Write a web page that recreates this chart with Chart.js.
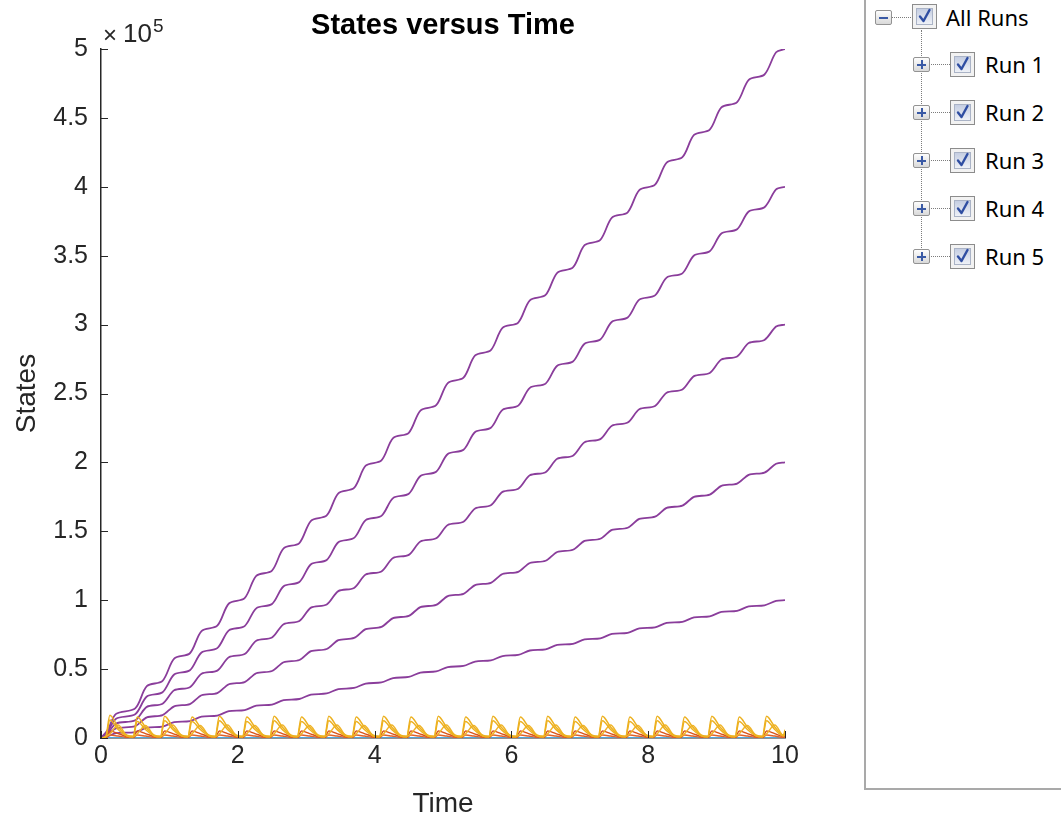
<!DOCTYPE html>
<html>
<head>
<meta charset="utf-8">
<title>States versus Time</title>
<script src="https://cdn.jsdelivr.net/npm/chart.js@4.4.1/dist/chart.umd.min.js"></script>
<style>
body { margin: 0; background: #fff; }
#wrap { position: relative; width: 1061px; height: 818px; overflow: hidden; }
#c { position: absolute; left: 0; top: 0; }
#panel { position: absolute; left: 864px; top: -2px; width: 220px; height: 790px; border-left: 2px solid #a9a9a9; border-bottom: 2px solid #a9a9a9; }
.exp { position: absolute; width: 15px; height: 13px; border: 1px solid #939393; border-radius: 2px; background: linear-gradient(#fdfdfd, #d9d9d9); }
.exp::before { content: ''; position: absolute; left: 3px; top: 5.5px; width: 9px; height: 2px; background: #3a5aa5; }
.exp.plus::after { content: ''; position: absolute; left: 6.5px; top: 2px; width: 2px; height: 9px; background: #3a5aa5; }
.hdot { position: absolute; height: 0; border-top: 1px dotted #7c7c7c; }
.vdot { position: absolute; width: 0; border-left: 1px dotted #7c7c7c; }
.chk { position: absolute; width: 25px; height: 25px; box-sizing: border-box; border: 1px solid #8c8c8c; background: #f2f2f2; }
.chk .in { position: absolute; left: 3px; top: 3px; right: 3px; bottom: 3px; border: 1px solid #aab3c6; background: linear-gradient(#c5cee2, #eef1f7); }
.chk svg { position: absolute; left: 3px; top: 2px; }
.lbl { position: absolute; font-family: "Noto Sans", sans-serif; font-size: 22px; line-height: 22px; color: #000; white-space: nowrap; }
</style>
</head>
<body>
<div id="wrap">
  <canvas id="c" width="860" height="818"></canvas>
  <div id="panel"></div>
  <div id="tree"></div>
</div>
<script>
// time grid for the purple state (rise start / rise end of every step)
const tSteps = [0, 0.1, 0.22,
  0.5, 0.67, 0.9, 1.07, 1.3, 1.47, 1.7, 1.87, 2.1, 2.27, 2.5, 2.67, 2.9, 3.07,
  3.3, 3.47, 3.7, 3.87, 4.1, 4.27, 4.5, 4.67, 4.9, 5.07, 5.3, 5.47, 5.7, 5.87,
  6.1, 6.27, 6.5, 6.67, 6.9, 7.07, 7.3, 7.47, 7.7, 7.87, 8.1, 8.27, 8.5, 8.67,
  8.9, 9.07, 9.3, 9.47, 9.7, 9.87, 10];

// purple state per run (x 1e5)
const run5 = [0, 0.06, 0.175,
  0.215, 0.376, 0.415, 0.576, 0.615, 0.776, 0.815, 0.976, 1.015, 1.176, 1.215, 1.376, 1.415, 1.576,
  1.615, 1.776, 1.815, 1.976, 2.015, 2.176, 2.215, 2.376, 2.415, 2.576, 2.615, 2.776, 2.815, 2.976,
  3.015, 3.176, 3.215, 3.376, 3.415, 3.576, 3.615, 3.776, 3.815, 3.976, 4.015, 4.176, 4.215, 4.376,
  4.415, 4.576, 4.615, 4.776, 4.815, 4.976, 5.0];
const run4 = [0, 0.048, 0.14,
  0.172, 0.301, 0.332, 0.461, 0.492, 0.621, 0.652, 0.781, 0.812, 0.941, 0.972, 1.101, 1.132, 1.261,
  1.292, 1.421, 1.452, 1.581, 1.612, 1.741, 1.772, 1.901, 1.932, 2.061, 2.092, 2.221, 2.252, 2.381,
  2.412, 2.541, 2.572, 2.701, 2.732, 2.861, 2.892, 3.021, 3.052, 3.181, 3.212, 3.341, 3.372, 3.501,
  3.532, 3.661, 3.692, 3.821, 3.852, 3.981, 4.0];
const run3 = [0, 0.036, 0.105,
  0.129, 0.226, 0.249, 0.346, 0.369, 0.466, 0.489, 0.586, 0.609, 0.706, 0.729, 0.826, 0.849, 0.946,
  0.969, 1.066, 1.089, 1.186, 1.209, 1.306, 1.329, 1.426, 1.449, 1.546, 1.569, 1.666, 1.689, 1.786,
  1.809, 1.906, 1.929, 2.026, 2.049, 2.146, 2.169, 2.266, 2.289, 2.386, 2.409, 2.506, 2.529, 2.626,
  2.649, 2.746, 2.769, 2.866, 2.889, 2.986, 3.0];
const run2 = [0, 0.024, 0.07,
  0.086, 0.150, 0.166, 0.230, 0.246, 0.310, 0.326, 0.390, 0.406, 0.470, 0.486, 0.550, 0.566, 0.630,
  0.646, 0.710, 0.726, 0.790, 0.806, 0.870, 0.886, 0.950, 0.966, 1.030, 1.046, 1.110, 1.126, 1.190,
  1.206, 1.270, 1.286, 1.350, 1.366, 1.430, 1.446, 1.510, 1.526, 1.590, 1.606, 1.670, 1.686, 1.750,
  1.766, 1.830, 1.846, 1.910, 1.926, 1.990, 2.0];
const run1 = [0, 0.012, 0.035,
  0.043, 0.075, 0.083, 0.115, 0.123, 0.155, 0.163, 0.195, 0.203, 0.235, 0.243, 0.275, 0.283, 0.315,
  0.323, 0.355, 0.363, 0.395, 0.403, 0.435, 0.443, 0.475, 0.483, 0.515, 0.523, 0.555, 0.563, 0.595,
  0.603, 0.635, 0.643, 0.675, 0.683, 0.715, 0.723, 0.755, 0.763, 0.795, 0.803, 0.835, 0.843, 0.875,
  0.883, 0.915, 0.923, 0.955, 0.963, 0.995, 1.0];

// time grid for the fast oscillating states (base, peak, shoulder, tail of each pulse)
const tPulse = [0,
  0.07, 0.13, 0.25, 0.38, 0.47, 0.53, 0.65, 0.78, 0.87, 0.93, 1.05, 1.18, 1.27, 1.33, 1.45, 1.58,
  1.67, 1.73, 1.85, 1.98, 2.07, 2.13, 2.25, 2.38, 2.47, 2.53, 2.65, 2.78, 2.87, 2.93, 3.05, 3.18,
  3.27, 3.33, 3.45, 3.58, 3.67, 3.73, 3.85, 3.98, 4.07, 4.13, 4.25, 4.38, 4.47, 4.53, 4.65, 4.78,
  4.87, 4.93, 5.05, 5.18, 5.27, 5.33, 5.45, 5.58, 5.67, 5.73, 5.85, 5.98, 6.07, 6.13, 6.25, 6.38,
  6.47, 6.53, 6.65, 6.78, 6.87, 6.93, 7.05, 7.18, 7.27, 7.33, 7.45, 7.58, 7.67, 7.73, 7.85, 7.98,
  8.07, 8.13, 8.25, 8.38, 8.47, 8.53, 8.65, 8.78, 8.87, 8.93, 9.05, 9.18, 9.27, 9.33, 9.45, 9.58,
  9.67, 9.73, 9.85, 9.98, 10];

const yellowHi = [0,
  0.012, 0.165, 0.08, 0.02, 0.012, 0.152, 0.08, 0.02, 0.012, 0.158, 0.08, 0.02, 0.012, 0.152, 0.08, 0.02,
  0.012, 0.158, 0.08, 0.02, 0.012, 0.152, 0.08, 0.02, 0.012, 0.158, 0.08, 0.02, 0.012, 0.152, 0.08, 0.02,
  0.012, 0.158, 0.08, 0.02, 0.012, 0.152, 0.08, 0.02, 0.012, 0.158, 0.08, 0.02, 0.012, 0.152, 0.08, 0.02,
  0.012, 0.158, 0.08, 0.02, 0.012, 0.152, 0.08, 0.02, 0.012, 0.158, 0.08, 0.02, 0.012, 0.152, 0.08, 0.02,
  0.012, 0.158, 0.08, 0.02, 0.012, 0.152, 0.08, 0.02, 0.012, 0.158, 0.08, 0.02, 0.012, 0.152, 0.08, 0.02,
  0.012, 0.158, 0.08, 0.02, 0.012, 0.152, 0.08, 0.02, 0.012, 0.158, 0.08, 0.02, 0.012, 0.152, 0.08, 0.02,
  0.012, 0.158, 0.08, 0.02, 0.06];
const yellowLo = [0,
  0.008, 0.13, 0.062, 0.014, 0.008, 0.12, 0.062, 0.014, 0.008, 0.126, 0.062, 0.014, 0.008, 0.12, 0.062, 0.014,
  0.008, 0.126, 0.062, 0.014, 0.008, 0.12, 0.062, 0.014, 0.008, 0.126, 0.062, 0.014, 0.008, 0.12, 0.062, 0.014,
  0.008, 0.126, 0.062, 0.014, 0.008, 0.12, 0.062, 0.014, 0.008, 0.126, 0.062, 0.014, 0.008, 0.12, 0.062, 0.014,
  0.008, 0.126, 0.062, 0.014, 0.008, 0.12, 0.062, 0.014, 0.008, 0.126, 0.062, 0.014, 0.008, 0.12, 0.062, 0.014,
  0.008, 0.126, 0.062, 0.014, 0.008, 0.12, 0.062, 0.014, 0.008, 0.126, 0.062, 0.014, 0.008, 0.12, 0.062, 0.014,
  0.008, 0.126, 0.062, 0.014, 0.008, 0.12, 0.062, 0.014, 0.008, 0.126, 0.062, 0.014, 0.008, 0.12, 0.062, 0.014,
  0.008, 0.126, 0.062, 0.014, 0.045];
// delayed hump that sits behind each main pulse
const yellowLate = [0,
  0.01, 0.03, 0.095, 0.016, 0.01, 0.03, 0.09, 0.016, 0.01, 0.03, 0.095, 0.016, 0.01, 0.03, 0.09, 0.016,
  0.01, 0.03, 0.095, 0.016, 0.01, 0.03, 0.09, 0.016, 0.01, 0.03, 0.095, 0.016, 0.01, 0.03, 0.09, 0.016,
  0.01, 0.03, 0.095, 0.016, 0.01, 0.03, 0.09, 0.016, 0.01, 0.03, 0.095, 0.016, 0.01, 0.03, 0.09, 0.016,
  0.01, 0.03, 0.095, 0.016, 0.01, 0.03, 0.09, 0.016, 0.01, 0.03, 0.095, 0.016, 0.01, 0.03, 0.09, 0.016,
  0.01, 0.03, 0.095, 0.016, 0.01, 0.03, 0.09, 0.016, 0.01, 0.03, 0.095, 0.016, 0.01, 0.03, 0.09, 0.016,
  0.01, 0.03, 0.095, 0.016, 0.01, 0.03, 0.09, 0.016, 0.01, 0.03, 0.095, 0.016, 0.01, 0.03, 0.09, 0.016,
  0.01, 0.03, 0.095, 0.016, 0.03];
const orangeHi = [0,
  0.005, 0.05, 0.032, 0.01, 0.005, 0.05, 0.032, 0.01, 0.005, 0.05, 0.032, 0.01, 0.005, 0.05, 0.032, 0.01,
  0.005, 0.05, 0.032, 0.01, 0.005, 0.05, 0.032, 0.01, 0.005, 0.05, 0.032, 0.01, 0.005, 0.05, 0.032, 0.01,
  0.005, 0.05, 0.032, 0.01, 0.005, 0.05, 0.032, 0.01, 0.005, 0.05, 0.032, 0.01, 0.005, 0.05, 0.032, 0.01,
  0.005, 0.05, 0.032, 0.01, 0.005, 0.05, 0.032, 0.01, 0.005, 0.05, 0.032, 0.01, 0.005, 0.05, 0.032, 0.01,
  0.005, 0.05, 0.032, 0.01, 0.005, 0.05, 0.032, 0.01, 0.005, 0.05, 0.032, 0.01, 0.005, 0.05, 0.032, 0.01,
  0.005, 0.05, 0.032, 0.01, 0.005, 0.05, 0.032, 0.01, 0.005, 0.05, 0.032, 0.01, 0.005, 0.05, 0.032, 0.01,
  0.005, 0.05, 0.032, 0.01, 0.02];
const orangeLo = [0,
  0.002, 0.022, 0.014, 0.004, 0.002, 0.022, 0.014, 0.004, 0.002, 0.022, 0.014, 0.004, 0.002, 0.022, 0.014, 0.004,
  0.002, 0.022, 0.014, 0.004, 0.002, 0.022, 0.014, 0.004, 0.002, 0.022, 0.014, 0.004, 0.002, 0.022, 0.014, 0.004,
  0.002, 0.022, 0.014, 0.004, 0.002, 0.022, 0.014, 0.004, 0.002, 0.022, 0.014, 0.004, 0.002, 0.022, 0.014, 0.004,
  0.002, 0.022, 0.014, 0.004, 0.002, 0.022, 0.014, 0.004, 0.002, 0.022, 0.014, 0.004, 0.002, 0.022, 0.014, 0.004,
  0.002, 0.022, 0.014, 0.004, 0.002, 0.022, 0.014, 0.004, 0.002, 0.022, 0.014, 0.004, 0.002, 0.022, 0.014, 0.004,
  0.002, 0.022, 0.014, 0.004, 0.002, 0.022, 0.014, 0.004, 0.002, 0.022, 0.014, 0.004, 0.002, 0.022, 0.014, 0.004,
  0.002, 0.022, 0.014, 0.004, 0.008];

const tFlat = [0, 10];
const blueFlat = [0, 0];

const runNames = ['Run 1', 'Run 2', 'Run 3', 'Run 4', 'Run 5'];
const xTicks = [0, 2, 4, 6, 8, 10];
const yTicks = [0, 0.5, 1, 1.5, 2, 2.5, 3, 3.5, 4, 4.5, 5];

const FONT = '"Liberation Sans", Arial, sans-serif';
const AXIS = '#262626';
const PURPLE = '#8A3D9B';

function series(ts, vs, color, width, smooth) {
    return {
        data: ts.map((t, i) => ({ x: t, y: vs[i] })),
        borderColor: color,
        borderWidth: width,
        pointRadius: 0,
        cubicInterpolationMode: smooth ? 'default' : 'monotone',
        tension: smooth || 0,
        fill: false
    };
}

// pulses first so they are painted on top of the purple curves
const datasets = [
    series(tPulse, yellowHi, '#EDB120', 1.5),
    series(tPulse, yellowLo, '#EDB120', 1.5),
    series(tPulse, yellowLate, '#F0B429', 1.5),
    series(tPulse, orangeHi, '#D95319', 1.5),
    series(tPulse, orangeLo, '#E0622A', 1.5),
    series(tFlat, blueFlat, '#4DA6DE', 2),
    series(tSteps, run5, PURPLE, 1.8, 0.3),
    series(tSteps, run4, PURPLE, 1.8, 0.3),
    series(tSteps, run3, PURPLE, 1.8, 0.3),
    series(tSteps, run2, PURPLE, 1.8, 0.3),
    series(tSteps, run1, PURPLE, 1.8, 0.3)
];

// title, x10^5 exponent and the inward tick marks
const matlabDecor = {
    id: 'matlabDecor',
    afterDraw(chart) {
        const { ctx, chartArea: a, scales: { x, y } } = chart;
        ctx.save();
        ctx.strokeStyle = AXIS;
        ctx.lineWidth = 1;
        y.ticks.forEach(t => {
            const py = Math.round(y.getPixelForValue(t.value)) + 0.5;
            ctx.beginPath(); ctx.moveTo(a.left, py); ctx.lineTo(a.left + 7, py); ctx.stroke();
        });
        x.ticks.forEach(t => {
            const px = Math.round(x.getPixelForValue(t.value)) + 0.5;
            ctx.beginPath(); ctx.moveTo(px, a.bottom); ctx.lineTo(px, a.bottom - 7); ctx.stroke();
        });

        ctx.fillStyle = '#000';
        ctx.font = 'bold 29px ' + FONT;
        ctx.textAlign = 'center';
        ctx.textBaseline = 'middle';
        ctx.fillText('States versus Time', (a.left + a.right) / 2, 26);

        ctx.fillStyle = AXIS;
        ctx.textAlign = 'left';
        ctx.font = '24px ' + FONT;
        ctx.fillText('\u00d7', a.left + 2, 36);
        ctx.font = '26px ' + FONT;
        ctx.fillText('10', a.left + 22, 35);
        ctx.font = '19px ' + FONT;
        ctx.fillText('5', a.left + 52, 27);
        ctx.restore();
    }
};

new Chart(document.getElementById('c'), {
    type: 'line',
    data: { datasets },
    options: {
        responsive: false,
        animation: false,
        layout: { padding: { left: 0, right: 75, top: 49, bottom: 0 } },
        plugins: {
            legend: { display: false },
            tooltip: { enabled: false },
            title: { display: false }
        },
        scales: {
            x: {
                type: 'linear',
                min: 0,
                max: 10,
                afterBuildTicks: s => { s.ticks = xTicks.map(v => ({ value: v })); },
                afterFit: s => { s.height = 80; },
                grid: { display: false, drawTicks: false },
                border: { display: true, color: AXIS, width: 1.5 },
                ticks: { color: AXIS, font: { family: FONT, size: 25 }, padding: 3, maxRotation: 0, callback: v => String(v) },
                title: { display: true, text: 'Time', color: AXIS, font: { family: FONT, size: 28 }, padding: { top: 0, bottom: -3 } }
            },
            y: {
                type: 'linear',
                min: 0,
                max: 5,
                afterBuildTicks: s => { s.ticks = yTicks.map(v => ({ value: v })); },
                afterFit: s => { s.width = 101; },
                grid: { display: false, drawTicks: false },
                border: { display: true, color: AXIS, width: 1.5 },
                ticks: { color: AXIS, font: { family: FONT, size: 25 }, padding: 13, callback: v => String(v) },
                title: { display: true, text: 'States', color: AXIS, font: { family: FONT, size: 28 }, padding: { top: 10, bottom: 0 } }
            }
        }
    },
    plugins: [matlabDecor]
});

// run selector tree on the right
const tree = document.getElementById('tree');
const CHECK = '<div class="in"></div><svg width="17" height="18" viewBox="0 0 17 18"><path d="M4 9.5 L7.5 14 L13.5 3" stroke="#2f4ea2" stroke-width="2.4" fill="none" stroke-linecap="round" stroke-linejoin="round"/></svg>';

function add(cls, x, y, extra) {
    const d = document.createElement('div');
    d.className = cls;
    d.style.left = x + 'px';
    d.style.top = y + 'px';
    if (extra) Object.assign(d.style, extra);
    tree.appendChild(d);
    return d;
}

add('exp', 875, 10);
add('hdot', 892, 17, { width: '19px' });
add('chk', 912, 4).innerHTML = CHECK;
add('lbl', 946, 6).textContent = 'All Runs';
add('vdot', 921, 30, { height: '226px' });

runNames.forEach((name, i) => {
    const cy = 64 + 48 * i;
    add('exp plus', 913, cy - 7);
    add('hdot', 931, cy, { width: '19px' });
    add('chk', 950, cy - 12).innerHTML = CHECK;
    add('lbl', 985, cy - 11).textContent = name;
});
</script>
</body>
</html>
